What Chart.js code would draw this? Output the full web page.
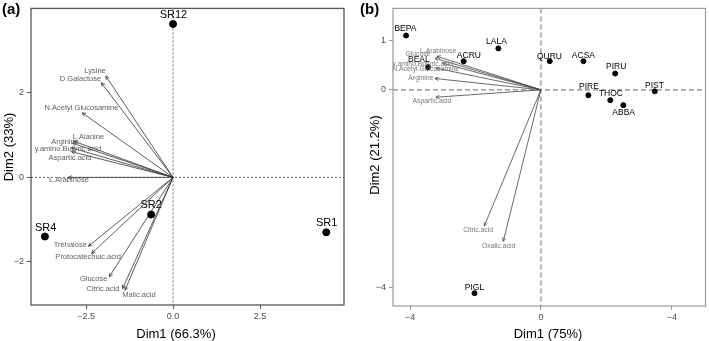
<!DOCTYPE html>
<html>
<head>
<meta charset="utf-8">
<script src="https://cdn.jsdelivr.net/npm/chart.js@4.4.1/dist/chart.umd.min.js"></script>
<style>
  html, body { margin: 0; padding: 0; background: #fff; width: 709px; height: 341px; overflow: hidden; }
  #wrapA { position: absolute; left: 0; top: 0; }
  #wrapB { position: absolute; left: 358px; top: 0; }
</style>
</head>
<body>
<div id="wrapA"><canvas id="chartA" width="358" height="341"></canvas></div>
<div id="wrapB"><canvas id="chartB" width="351" height="341"></canvas></div>
<script>
// ---- panel (a) ----
const sitesA = ['SR12', 'SR2', 'SR4', 'SR1'];
const siteXA = [0, -0.63, -3.68, 4.40];
const siteYA = [3.63, -0.88, -1.40, -1.30];
const siteLabXA = [0.01, -0.63, -3.66, 4.41];
const siteLabYA = [3.84, -0.65, -1.19, -1.09];

const varsA = ['Lysine', 'D.Galactose', 'N.Acetyl.Glucosamine', 'L.Alanine', 'Arginine',
  'y.amino.Butyric.acid', 'Aspartic.acid', 'L.Arabinose', 'Trehalose',
  'Protocatechuic.acid', 'Glucose', 'Citric.acid', 'Malic.acid'];
const varXA = [-1.93, -2.06, -2.61, -2.86, -2.89, -2.92, -2.92, -3.01, -2.43, -2.34, -1.83, -1.45, -1.38];
const varYA = [2.40, 2.24, 1.53, 0.86, 0.81, 0.70, 0.61, 0.0, -1.63, -1.80, -2.35, -2.63, -2.67];
const varLabXA = [-2.24, -2.66, -2.63, -2.43, -3.10, -3.02, -2.96, -2.99, -2.95, -2.44, -2.28, -2.01, -0.98];
const varLabYA = [2.51, 2.33, 1.65, 0.95, 0.84, 0.67, 0.47, -0.07, -1.60, -1.88, -2.40, -2.65, -2.79];

const xTicksA = [-2.5, 0, 2.5];
const xTickLabelsA = ['\u22122.5', '0.0', '2.5'];
const yTicksA = [-2, 0, 2];
const yTickLabelsA = ['\u22122', '0', '2'];

// ---- panel (b) ----
const sitesB = ['BEPA', 'LALA', 'ACRU', 'BEAL', 'QURU', 'ACSA', 'PIRU', 'PIST', 'PIRE', 'THOC', 'ABBA', 'PIGL'];
const siteXB = [-4.12, -1.30, -2.36, -3.45, 0.27, 1.30, 2.27, 3.48, 1.45, 2.12, 2.52, -2.03];
const siteYB = [1.10, 0.84, 0.58, 0.46, 0.58, 0.58, 0.33, -0.03, -0.11, -0.21, -0.31, -4.12];
const siteLabXB = [-4.14, -1.36, -2.20, -3.73, 0.26, 1.30, 2.30, 3.47, 1.47, 2.14, 2.53, -2.03];
const siteLabYB = [1.24, 0.98, 0.70, 0.62, 0.68, 0.70, 0.46, 0.09, 0.07, -0.07, -0.46, -4.00];

const varsB = ['L.Arabinose', 'Glucose', 'y.amino.Butyric.acid', 'N.Acetyl.Glucosamine',
  'Arginine', 'Aspartic.acid', 'Citric.acid', 'Oxalic.acid'];
const varXB = [-3.18, -3.24, -3.00, -3.21, -3.24, -3.21, -1.73, -1.15];
const varYB = [0.68, 0.64, 0.54, 0.44, 0.23, -0.15, -2.76, -3.07];
const varLabXB = [-3.14, -3.76, -3.61, -3.52, -3.67, -3.33, -1.92, -1.29];
const varLabYB = [0.78, 0.72, 0.52, 0.41, 0.23, -0.23, -2.84, -3.17];

const xTicksB = [-4, 0, 4];
const xTickLabelsB = ['\u22124', '0', '\u22124'];
const yTicksB = [-4, 0, 1];
const yTickLabelsB = ['\u22124', '0', '1'];

const FONT = '"Liberation Sans", Arial, sans-serif';

function biplotPlugin(cfg) {
  return {
    id: 'biplot',
    beforeDatasetsDraw(chart) {
      const { ctx, chartArea: a, scales: { x, y } } = chart;
      const x0 = x.getPixelForValue(0), y0 = y.getPixelForValue(0);
      ctx.save();
      // reference lines through the origin
      ctx.strokeStyle = cfg.dashColor;
      ctx.lineWidth = cfg.dashWidth;
      ctx.setLineDash(cfg.dash);
      ctx.beginPath();
      ctx.moveTo(x0, a.top); ctx.lineTo(x0, a.bottom);
      ctx.moveTo(a.left, y0); ctx.lineTo(a.right, y0);
      ctx.stroke();
      ctx.setLineDash([]);
      // variable arrows
      ctx.strokeStyle = cfg.arrowColor;
      ctx.lineWidth = 0.8;
      cfg.vx.forEach((vx, i) => {
        const tx = x.getPixelForValue(vx), ty = y.getPixelForValue(cfg.vy[i]);
        const ang = Math.atan2(ty - y0, tx - x0);
        ctx.beginPath();
        ctx.moveTo(x0, y0); ctx.lineTo(tx, ty);
        for (const s of [-1, 1]) {
          ctx.moveTo(tx, ty);
          ctx.lineTo(tx - 4 * Math.cos(ang + s * 0.45), ty - 4 * Math.sin(ang + s * 0.45));
        }
        ctx.stroke();
      });
      ctx.restore();
    },
    afterDatasetsDraw(chart) {
      const { ctx, scales: { x, y } } = chart;
      ctx.save();
      ctx.textAlign = 'center';
      ctx.textBaseline = 'middle';
      ctx.fillStyle = cfg.varColor;
      ctx.font = cfg.varFont + 'px ' + FONT;
      cfg.vnames.forEach((n, i) => {
        ctx.fillText(n, x.getPixelForValue(cfg.vlx[i]), y.getPixelForValue(cfg.vly[i]));
      });
      ctx.fillStyle = '#000';
      ctx.font = cfg.siteFont + 'px ' + FONT;
      cfg.snames.forEach((n, i) => {
        ctx.fillText(n, x.getPixelForValue(cfg.slx[i]), y.getPixelForValue(cfg.sly[i]));
      });
      ctx.restore();
    },
    afterDraw(chart) {
      const { ctx, chartArea: a } = chart;
      ctx.save();
      ctx.strokeStyle = cfg.frameColor;
      ctx.lineWidth = cfg.frameWidth;
      ctx.strokeRect(a.left, a.top, a.right - a.left, a.bottom - a.top);
      ctx.fillStyle = '#000';
      ctx.font = 'bold 15px ' + FONT;
      ctx.textAlign = 'left';
      ctx.textBaseline = 'middle';
      ctx.fillText(cfg.tag, cfg.tagX, 10);
      ctx.font = '13px ' + FONT;
      ctx.textAlign = 'center';
      ctx.fillText(cfg.xTitle, cfg.xTitleX, 334);
      ctx.translate(cfg.yTitleX, cfg.yTitleY);
      ctx.rotate(-Math.PI / 2);
      ctx.fillText(cfg.yTitle, 0, 0);
      ctx.restore();
    }
  };
}

function makeChart(id, d) {
  return new Chart(document.getElementById(id), {
    type: 'scatter',
    data: {
      datasets: [{
        data: d.sx.map((v, i) => ({ x: v, y: d.sy[i] })),
        backgroundColor: '#000',
        borderColor: '#000',
        pointRadius: d.r,
        pointHoverRadius: d.r
      }]
    },
    options: {
      responsive: false,
      animation: false,
      events: [],
      layout: { padding: d.pad },
      plugins: { legend: { display: false }, tooltip: { enabled: false } },
      scales: {
        x: {
          type: 'linear', min: d.xmin, max: d.xmax,
          afterBuildTicks: s => { s.ticks = d.xt.map(v => ({ value: v })); },
          afterFit: s => { s.height = d.xh; },
          ticks: { autoSkip: false, maxRotation: 0, padding: 2, color: '#4d4d4d',
            font: { size: 9, family: FONT }, callback: (v, i) => d.xtl[i] },
          grid: { drawOnChartArea: false, tickLength: 4, color: d.frameColor },
          border: { display: false }
        },
        y: {
          type: 'linear', min: d.ymin, max: d.ymax,
          afterBuildTicks: s => { s.ticks = d.yt.map(v => ({ value: v })); },
          afterFit: s => { s.width = d.yw; },
          ticks: { autoSkip: false, padding: 3, color: '#4d4d4d',
            font: { size: 9, family: FONT }, callback: (v, i) => d.ytl[i] },
          grid: { drawOnChartArea: false, tickLength: 4, color: d.frameColor },
          border: { display: false }
        }
      }
    },
    plugins: [biplotPlugin(d)]
  });
}

makeChart('chartA', {
  sx: siteXA, sy: siteYA, r: 3.5,
  snames: sitesA, slx: siteLabXA, sly: siteLabYA, siteFont: 11,
  vnames: varsA, vx: varXA, vy: varYA, vlx: varLabXA, vly: varLabYA, varFont: 7.5,
  varColor: '#5e5e5e', arrowColor: '#333',
  dashColor: '#444', dashWidth: 0.8, dash: [2, 2],
  frameColor: '#555', frameWidth: 1.3,
  xmin: -4.08, xmax: 4.91, ymin: -3.02, ymax: 4.0,
  xt: xTicksA, xtl: xTickLabelsA, yt: yTicksA, ytl: yTickLabelsA,
  pad: { left: 0, right: 14, top: 3, bottom: 0 }, xh: 36, yw: 31,
  tag: '(a)', tagX: 2, xTitle: 'Dim1 (66.3%)', xTitleX: 176,
  yTitle: 'Dim2 (33%)', yTitleX: 9, yTitleY: 147
});

makeChart('chartB', {
  sx: siteXB, sy: siteYB, r: 2.5,
  snames: sitesB, slx: siteLabXB, sly: siteLabYB, siteFont: 8.5,
  vnames: varsB, vx: varXB, vy: varYB, vlx: varLabXB, vly: varLabYB, varFont: 6.8,
  varColor: '#777', arrowColor: '#444',
  dashColor: '#888', dashWidth: 1.2, dash: [5, 3],
  frameColor: '#999', frameWidth: 1.2,
  xmin: -4.52, xmax: 5.03, ymin: -4.38, ymax: 1.65,
  xt: xTicksB, xtl: xTickLabelsB, yt: yTicksB, ytl: yTickLabelsB,
  pad: { left: 0, right: 1, top: 1, bottom: 0 }, xh: 35, yw: 35,
  tag: '(b)', tagX: 2, xTitle: 'Dim1 (75%)', xTitleX: 190,
  yTitle: 'Dim2 (21.2%)', yTitleX: 17, yTitleY: 155
});
</script>
</body>
</html>
